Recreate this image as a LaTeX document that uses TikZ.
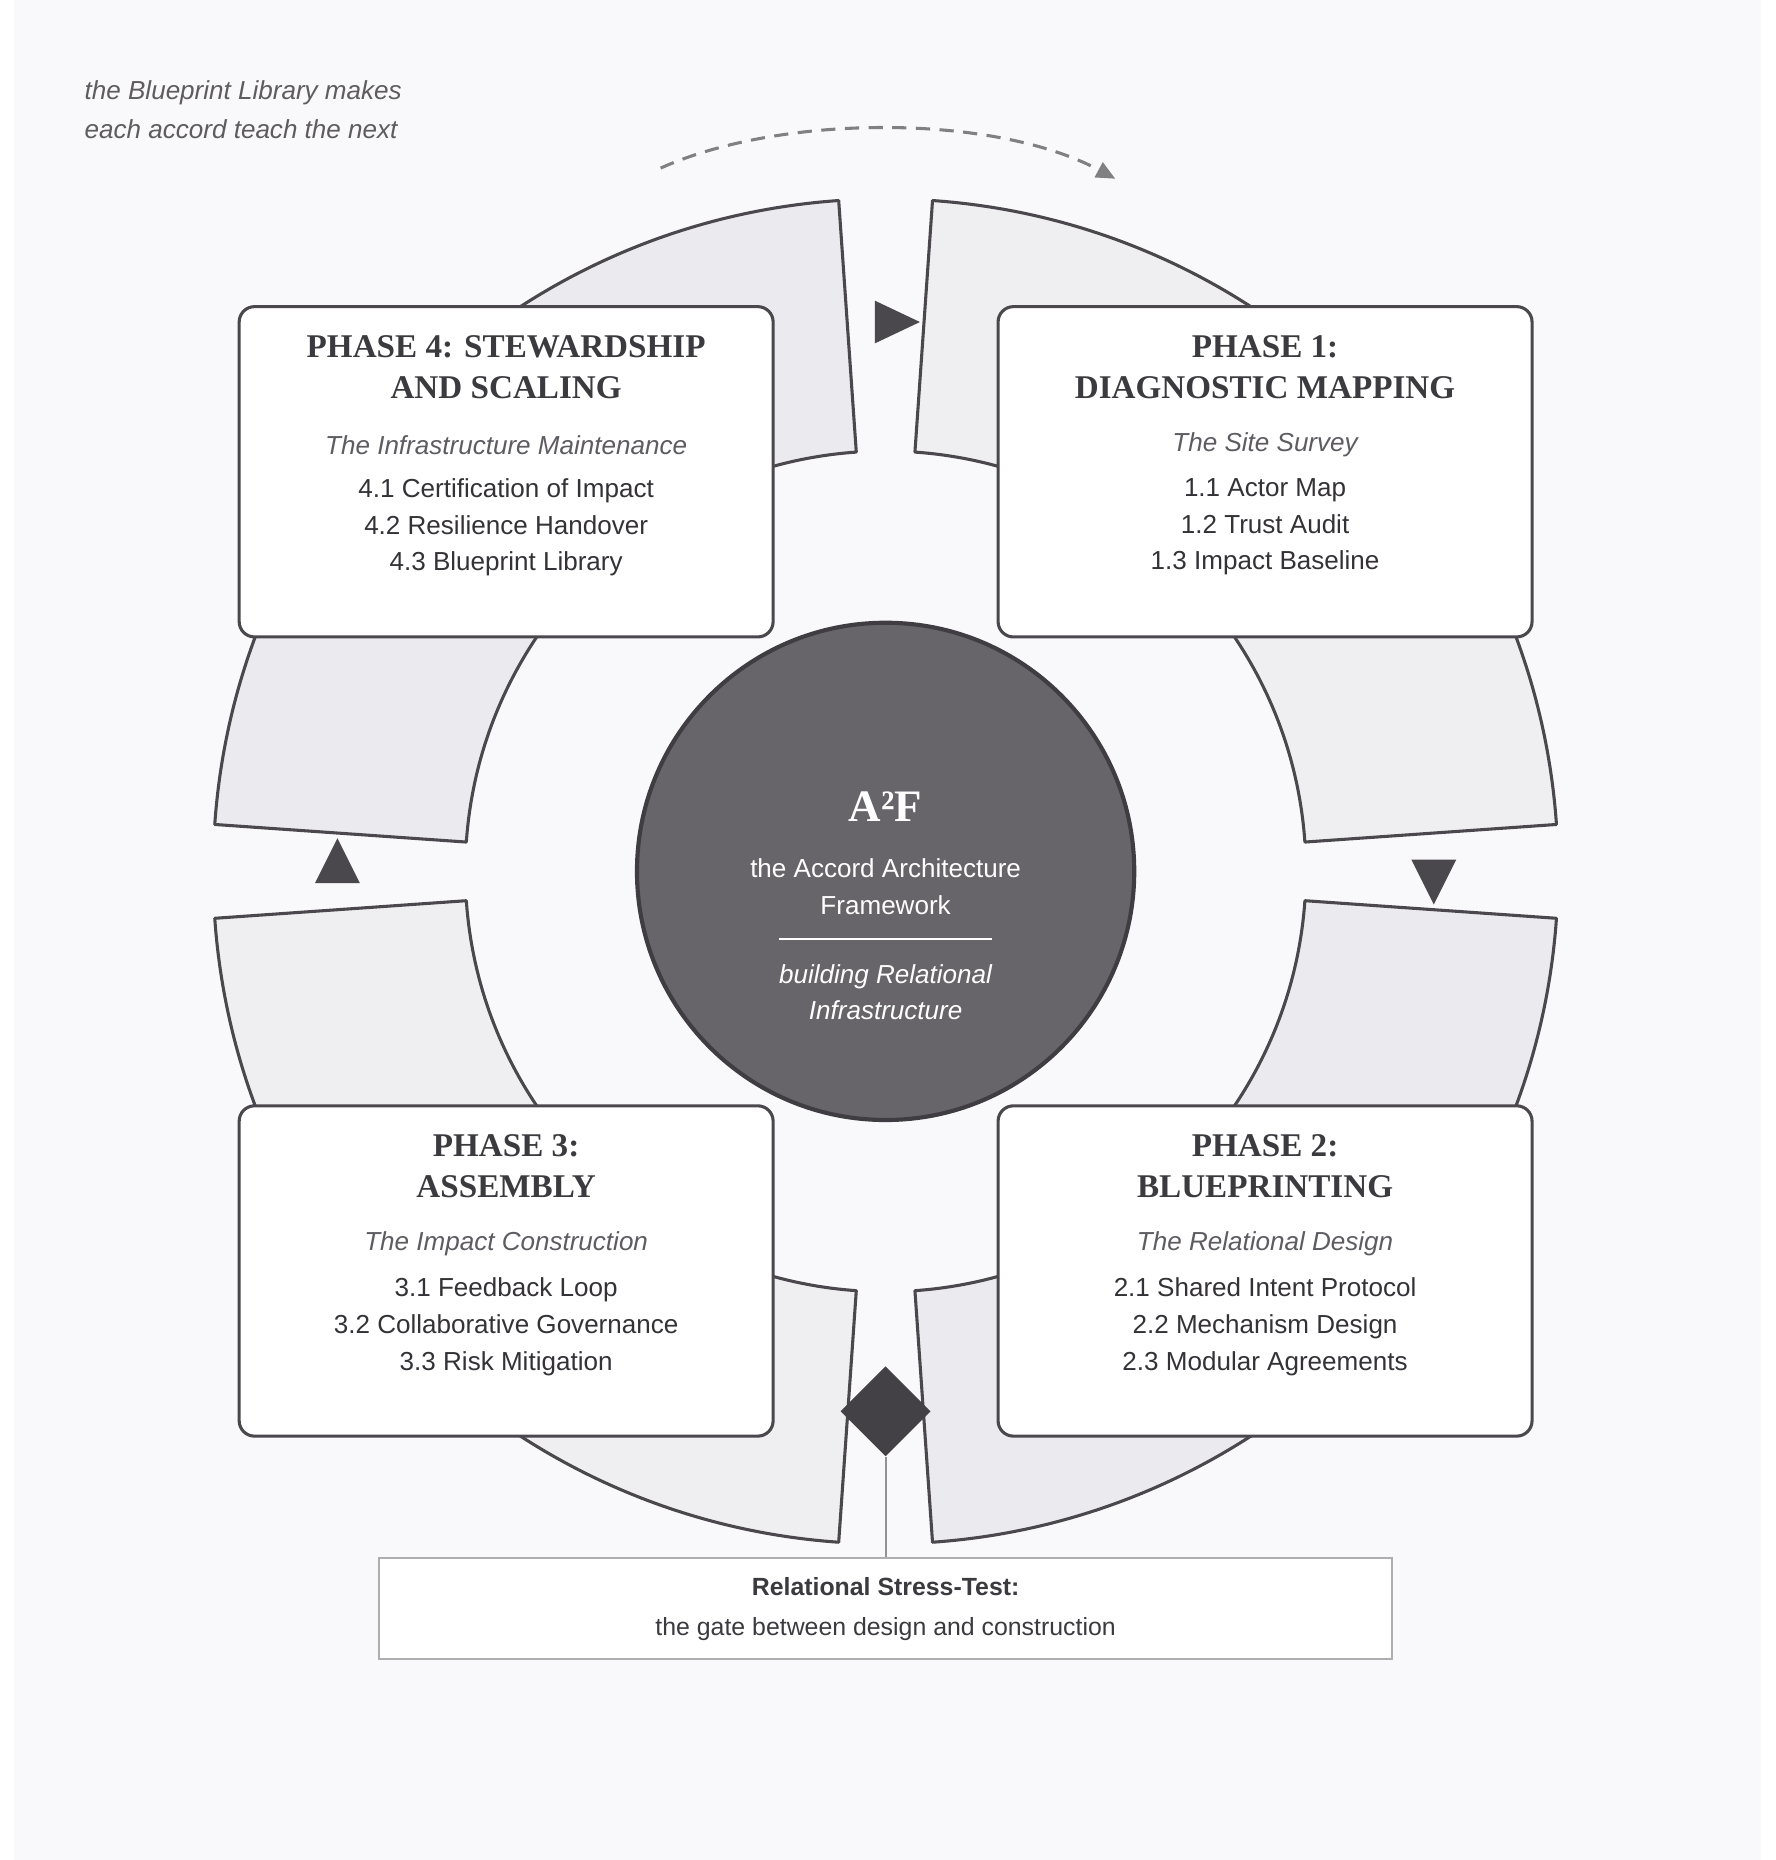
\documentclass[tikz,border=0pt]{standalone}
\usepackage{fontspec}
\setmainfont{Liberation Sans}
\newfontfamily\serifb{Liberation Serif}
\usetikzlibrary{arrows.meta,calc,shapes.geometric}
\definecolor{bg}{HTML}{F9F8FB}
\definecolor{ink}{HTML}{4A484D}
\definecolor{seg}{HTML}{EBEAEE}
\definecolor{segl}{HTML}{EFEEF1}
\definecolor{hub}{HTML}{67656A}
\definecolor{sub}{HTML}{5E5C61}
\begin{document}
\begin{tikzpicture}[x=1pt,y=1pt,
  segm/.style={draw=ink,line width=2.6pt,line join=round},
  box/.style={draw=ink,line width=2.6pt,fill=white,rounded corners=13pt,minimum width=451pt,minimum height=279pt},
  ttl/.style={font=\serifb\bfseries\fontsize{28}{35}\selectfont,text=ink!80!black,align=center},
  subt/.style={font=\itshape\fontsize{22}{26}\selectfont,text=sub},
  itm/.style={font=\fontsize{22}{31}\selectfont,text=ink!70!black,align=center},
  tri/.style={fill=ink,draw=none}]
\useasboundingbox (0,0) rectangle (1500,1571);
\fill[white] (0,0) rectangle (1500,1571);
\fill[bg] (12,0) rectangle (1487,1571);
\coordinate (c) at (748,835);
\def\R{568}\def\r{355}
\foreach \a/\b/\f in {86/4/segl,-4/-86/seg,-94/-176/segl,176/94/seg}{
  \draw[segm,fill=\f] ($(c)+(\a:\R)$) arc[start angle=\a,end angle=\b,radius=\R]
    -- ($(c)+(\b:\r)$) arc[start angle=\b,end angle=\a,radius=\r] -- cycle;}
% triangles
\fill[tri] (739,1317) -- (777,1299) -- (739,1281) -- cycle;
\fill[tri] (1192,845) -- (1230,845) -- (1211,807) -- cycle;
\fill[tri] (266,825) -- (304,825) -- (285,863) -- cycle;
% dashed arc
\coordinate (d1) at (558,1429);
\coordinate (d2) at (942,1420);
\draw[ink!70,line width=2.6pt,dash pattern=on 12pt off 8pt,-{Triangle[length=16pt,width=14pt]}]
  (d1) .. controls (660,1475) and (840,1475) .. (d2);
\node[anchor=west,font=\itshape\fontsize{22}{33}\selectfont,text=sub,align=left] (note) at (68,1478)
  {the Blueprint Library makes\\each accord teach the next};
% boxes
\node[box] (p4) at (427.5,1172.5) {};
\node[box] (p1) at (1068.5,1172.5) {};
\node[box] (p3) at (427.5,497.5) {};
\node[box] (p2) at (1068.5,497.5) {};
\foreach \n/\t/\s/\i in {
 p4/{PHASE 4: STEWARDSHIP\\AND SCALING}/{The Infrastructure Maintenance}/{4.1 Certification of Impact\\4.2 Resilience Handover\\4.3 Blueprint Library},
 p1/{PHASE 1:\\DIAGNOSTIC MAPPING}/{The Site Survey}/{1.1 Actor Map\\1.2 Trust Audit\\1.3 Impact Baseline},
 p3/{PHASE 3:\\ASSEMBLY}/{The Impact Construction}/{3.1 Feedback Loop\\3.2 Collaborative Governance\\3.3 Risk Mitigation},
 p2/{PHASE 2:\\BLUEPRINTING}/{The Relational Design}/{2.1 Shared Intent Protocol\\2.2 Mechanism Design\\2.3 Modular Agreements}}{
  \node[ttl,anchor=north] (\n t) at ($(\n.north)+(0,-22)$) {\t};
  \node[subt] (\n s) at ($(\n.north)+(0,-118)$) {\s};
  \node[itm,anchor=north] (\n i) at ($(\n.north)+(0,-143)$) {\i};
}
% hub
\node[circle,fill=hub,draw=ink!85!black,line width=3.5pt,minimum size=420pt] (hub) at (748,835) {};
\node[font=\serifb\bfseries\fontsize{38}{40}\selectfont,text=white] (a2f) at (748,890) {A²F};
\node[font=\fontsize{22}{31}\selectfont,text=white,align=center] (hubt) at (748,822) {the Accord Architecture\\Framework};
\draw[white,line width=1.5pt] (658,778) -- (838,778);
\node[font=\itshape\fontsize{22}{31}\selectfont,text=white,align=center] (hubs) at (748,733) {building Relational\\Infrastructure};
% gate
\node[draw=ink!45,line width=1.8pt,fill=white,minimum width=856pt,minimum height=85pt] (gate) at (748,212.5) {};
\node[font=\bfseries\fontsize{21}{34}\selectfont,text=ink!80!black,align=center] (gatet) at (748,212) {Relational Stress-Test:\\\mdseries the gate between design and construction};
\node[diamond,fill=ink!90!black,minimum size=76pt,inner sep=0pt] (dia) at (748,379) {};
\draw[ink!60,line width=1.5pt] (dia.south) -- (gate.north);
\end{tikzpicture}
\end{document}
